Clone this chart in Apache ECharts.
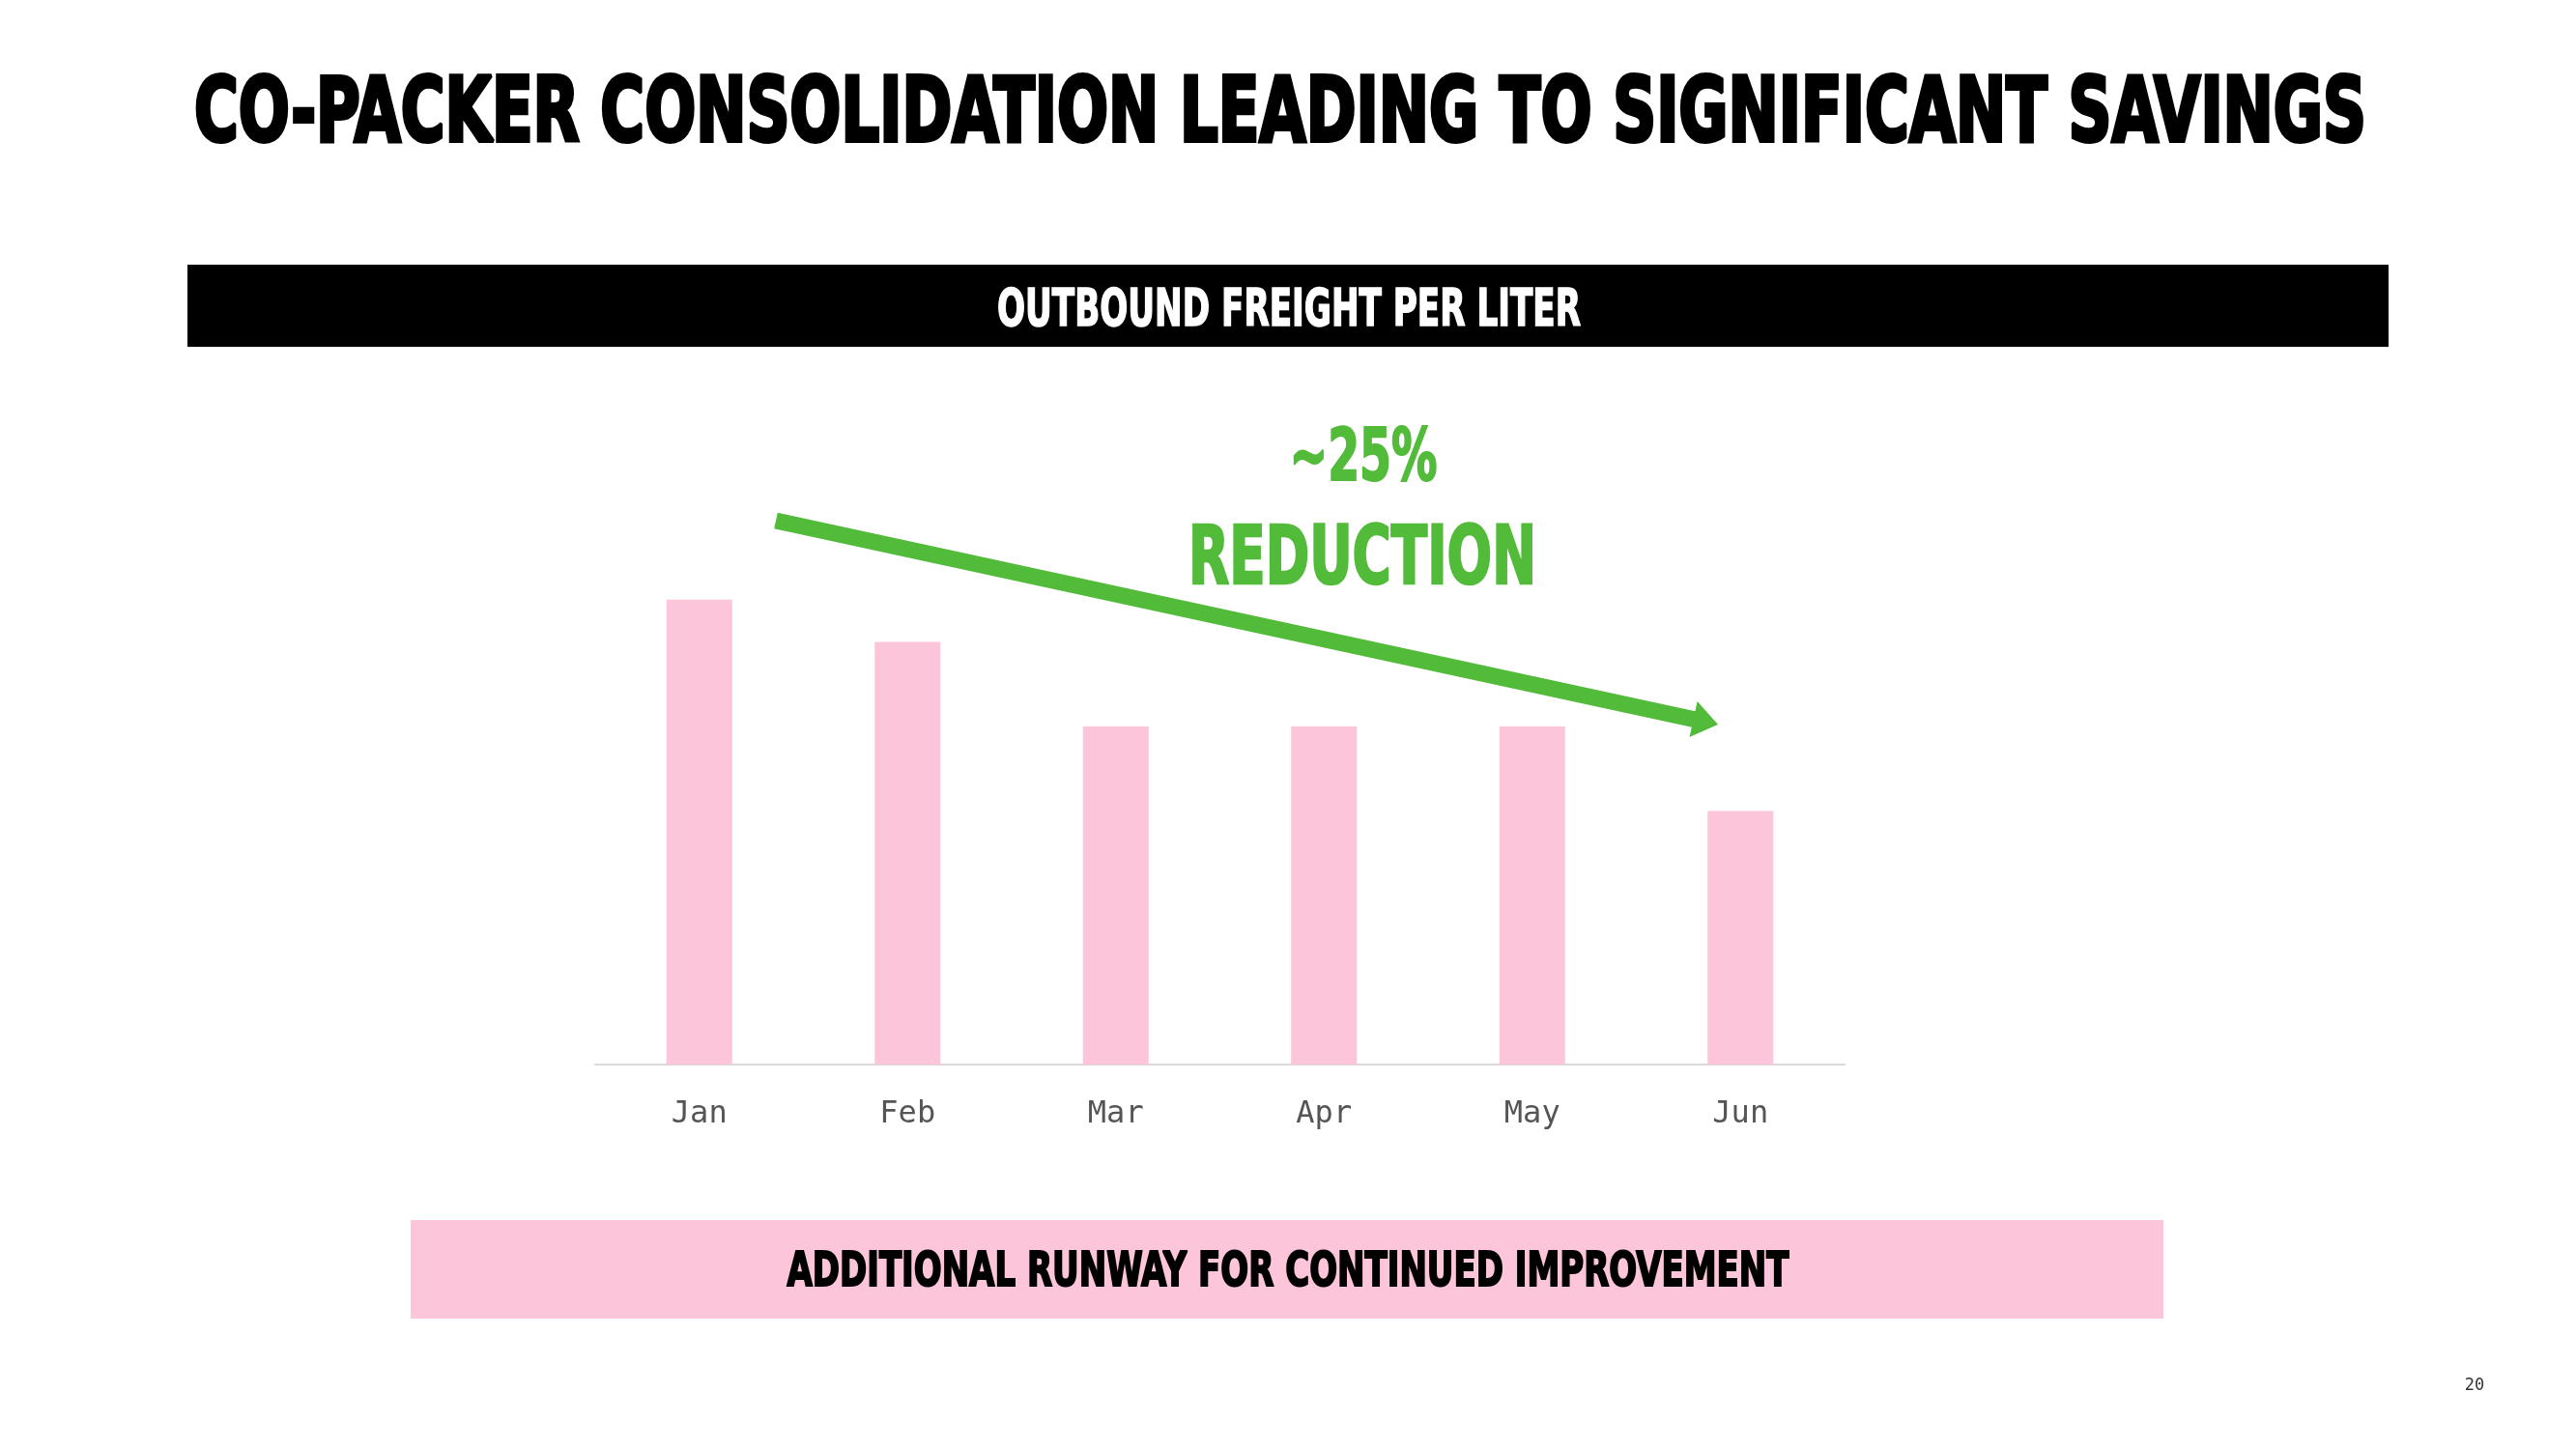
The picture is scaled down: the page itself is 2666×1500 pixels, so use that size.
<!DOCTYPE html>
<html>
<head>
<meta charset="utf-8">
<script src="https://cdn.jsdelivr.net/npm/echarts@6/dist/echarts.min.js"></script>
<style>
  html, body { margin: 0; padding: 0; background: #ffffff; }
  #chart { width: 2666px; height: 1500px; }
</style>
</head>
<body>
<div id="chart"></div>
<script>
// ---- data ----
const categories = ['Jan', 'Feb', 'Mar', 'Apr', 'May', 'Jun'];
const freightPerLiter = [11, 10, 8, 8, 8, 6];

// ---- texts ----
const titleText = 'CO-PACKER CONSOLIDATION LEADING TO SIGNIFICANT SAVINGS';
const headerText = 'OUTBOUND FREIGHT PER LITER';
const pctText = '~25%';
const reductionText = 'REDUCTION';
const footerText = 'ADDITIONAL RUNWAY FOR CONTINUED IMPROVEMENT';
const pageNumber = '20';

const DISPLAY_FONT = '"Liberation Sans Narrow", "DejaVu Sans Condensed", "Noto Sans", sans-serif';
const PINK = '#FCC5D9';
const GREEN = '#52BB3A';

const measureCtx = document.createElement('canvas').getContext('2d');
function fitScale(text, size, target) {
  measureCtx.font = 'bold ' + size + 'px ' + DISPLAY_FONT;
  const w = measureCtx.measureText(text).width;
  return target / w;
}

function displayText(text, cx, cy, size, targetWidth, fill, strokeW) {
  return {
    type: 'text',
    x: cx, y: cy,
    scaleX: fitScale(text, size, targetWidth),
    z: 10,
    style: {
      text: text,
      font: 'bold ' + size + 'px ' + DISPLAY_FONT,
      fill: fill,
      stroke: fill,
      lineWidth: strokeW,
      align: 'center',
      verticalAlign: 'middle'
    }
  };
}

// arrow polygon
function arrowPoints(x1, y1, x2, y2, lw, headLen, headHalf) {
  const dx = x2 - x1, dy = y2 - y1;
  const len = Math.sqrt(dx * dx + dy * dy);
  const ux = dx / len, uy = dy / len;
  const px = -uy, py = ux;
  const bx = x2 - ux * headLen, by = y2 - uy * headLen;
  const h = lw / 2;
  return [
    [x1 + px * h, y1 + py * h],
    [bx + px * h, by + py * h],
    [bx + px * headHalf, by + py * headHalf],
    [x2, y2],
    [bx - px * headHalf, by - py * headHalf],
    [bx - px * h, by - py * h],
    [x1 - px * h, y1 - py * h]
  ];
}

const chart = echarts.init(document.getElementById('chart'), null, { renderer: 'canvas' });

const option = {
  backgroundColor: '#ffffff',
  animation: false,
  grid: { left: 616, right: 757, top: 577, bottom: 398, containLabel: false },
  xAxis: {
    type: 'category',
    data: categories,
    axisLine: { show: true, lineStyle: { color: '#d9d9d9', width: 2 } },
    axisTick: { show: false },
    axisLabel: {
      margin: 36,
      fontSize: 32,
      color: '#555555',
      fontFamily: '"DejaVu Sans Mono", "Liberation Mono", monospace'
    },
    splitLine: { show: false }
  },
  yAxis: {
    type: 'value',
    min: 0, max: 12,
    show: false,
    splitLine: { show: false }
  },
  series: [{
    type: 'bar',
    data: freightPerLiter,
    barWidth: 68,
    itemStyle: { color: PINK },
    silent: true
  }],
  graphic: [
    displayText(titleText, 1325, 122, 92, 2248, '#000000', 4),
    { type: 'rect', shape: { x: 194, y: 274, width: 2278, height: 85 }, style: { fill: '#000000' } },
    displayText(headerText, 1334, 323, 54, 604, '#ffffff', 1.5),
    displayText(pctText, 1411, 478, 74, 153, GREEN, 2),
    displayText(reductionText, 1410, 582, 84, 360, GREEN, 2.5),
    {
      type: 'polygon',
      z: 5,
      shape: { points: arrowPoints(803, 539, 1778, 750, 17, 26, 19) },
      style: { fill: GREEN }
    },
    { type: 'rect', shape: { x: 425, y: 1263, width: 1814, height: 102 }, style: { fill: PINK } },
    displayText(footerText, 1333, 1318, 50, 1037, '#000000', 2),
    {
      type: 'text', x: 2561, y: 1435,
      style: {
        text: pageNumber,
        font: '17px "DejaVu Sans Mono", monospace',
        fill: '#333333',
        align: 'center', verticalAlign: 'middle'
      }
    }
  ]
};

chart.setOption(option);
</script>
</body>
</html>
